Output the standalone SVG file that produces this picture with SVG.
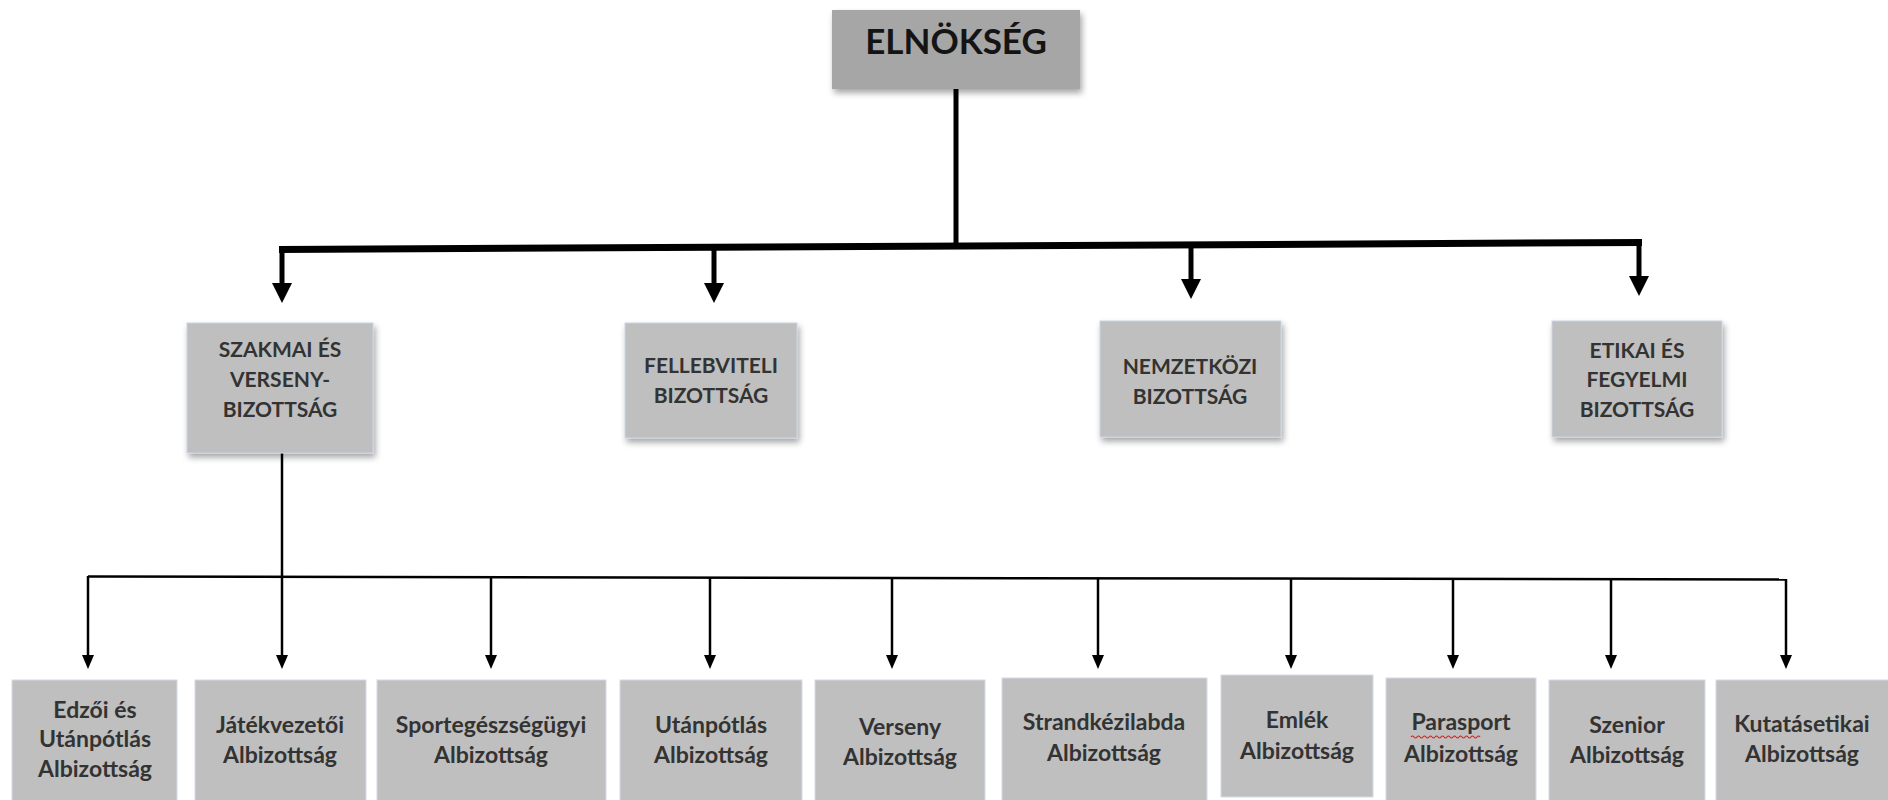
<svg xmlns="http://www.w3.org/2000/svg" width="1888" height="800" viewBox="0 0 1888 800">
<style>
  text { font-family: Lato, "Open Sans", "Liberation Sans", sans-serif; font-weight: bold; text-anchor: middle; }
  .top { fill: #a6a6a6; filter: url(#sh); }
  .mid { fill: #bfbfbf; stroke: #c9d4e6; stroke-width: 1; filter: url(#sh); }
  .low { fill: #bfbfbf; stroke: #d3dbe8; stroke-width: 1; }
  .tt { font-size: 35px; fill: #141414; }
  .mt { font-size: 21px; fill: #333333; }
  .lt { font-size: 23px; fill: #333333; }
  .thick { stroke: #000; stroke-width: 5; fill: none; }
  .bar { stroke: #000; stroke-width: 7; fill: none; }
  .thin { stroke: #000; stroke-width: 2.5; fill: none; }
</style>
<defs>
  <filter id="sh" x="-10%" y="-10%" width="125%" height="130%">
    <feDropShadow dx="2" dy="4" stdDeviation="3" flood-color="#000" flood-opacity="0.35"/>
  </filter>
  <marker id="big" markerUnits="userSpaceOnUse" viewBox="0 0 20 20" refX="2" refY="10" markerWidth="20" markerHeight="20" orient="auto">
    <path d="M0,0 L20,10 L0,20 z" fill="#000"/>
  </marker>
  <marker id="small" markerUnits="userSpaceOnUse" viewBox="0 0 14 12" refX="2" refY="6" markerWidth="14" markerHeight="12" orient="auto">
    <path d="M0,0 L14,6 L0,12 z" fill="#000"/>
  </marker>
</defs>

<g id="connectors">
  <line class="thick" x1="956" y1="89" x2="956" y2="246"/>
  <line class="bar" x1="279" y1="249.5" x2="1642" y2="242.5"/>
  <line class="thick" x1="282" y1="249" x2="282" y2="285" marker-end="url(#big)"/>
  <line class="thick" x1="714" y1="247" x2="714" y2="285" marker-end="url(#big)"/>
  <line class="thick" x1="1191" y1="245" x2="1191" y2="281" marker-end="url(#big)"/>
  <line class="thick" x1="1639" y1="243" x2="1639" y2="278" marker-end="url(#big)"/>

  <line class="thin" x1="282" y1="453" x2="282" y2="657" marker-end="url(#small)"/>
  <line class="thin" x1="88" y1="576.5" x2="1787" y2="579.5"/>
  <line class="thin" x1="88" y1="576" x2="88" y2="657" marker-end="url(#small)"/>
  <line class="thin" x1="491" y1="577" x2="491" y2="657" marker-end="url(#small)"/>
  <line class="thin" x1="710" y1="577" x2="710" y2="657" marker-end="url(#small)"/>
  <line class="thin" x1="892" y1="578" x2="892" y2="657" marker-end="url(#small)"/>
  <line class="thin" x1="1098" y1="578" x2="1098" y2="657" marker-end="url(#small)"/>
  <line class="thin" x1="1291" y1="578" x2="1291" y2="657" marker-end="url(#small)"/>
  <line class="thin" x1="1453" y1="579" x2="1453" y2="657" marker-end="url(#small)"/>
  <line class="thin" x1="1611" y1="579" x2="1611" y2="657" marker-end="url(#small)"/>
  <line class="thin" x1="1786" y1="579" x2="1786" y2="657" marker-end="url(#small)"/>
</g>

<g id="elnokseg">
  <rect class="top" x="832" y="10" width="248" height="79"/>
  <text class="tt" x="956" y="54">ELNÖKSÉG</text>
</g>

<g id="szakmai">
  <rect class="mid" x="187" y="323" width="186" height="130"/>
  <text class="mt" x="280" y="357">SZAKMAI ÉS</text>
  <text class="mt" x="280" y="387">VERSENY-</text>
  <text class="mt" x="280" y="417">BIZOTTSÁG</text>
</g>
<g id="fellebviteli">
  <rect class="mid" x="625" y="323" width="172" height="115"/>
  <text class="mt" x="711" y="373">FELLEBVITELI</text>
  <text class="mt" x="711" y="403">BIZOTTSÁG</text>
</g>
<g id="nemzetkozi">
  <rect class="mid" x="1100" y="321" width="181" height="116"/>
  <text class="mt" x="1190" y="374">NEMZETKÖZI</text>
  <text class="mt" x="1190" y="404">BIZOTTSÁG</text>
</g>
<g id="etikai">
  <rect class="mid" x="1552" y="321" width="170" height="116"/>
  <text class="mt" x="1637" y="358">ETIKAI ÉS</text>
  <text class="mt" x="1637" y="387">FEGYELMI</text>
  <text class="mt" x="1637" y="417">BIZOTTSÁG</text>
</g>

<g id="edzoi">
  <rect class="low" x="12" y="680" width="165" height="125"/>
  <text class="lt" x="95" y="718">Edzői és</text>
  <text class="lt" x="95" y="747">Utánpótlás</text>
  <text class="lt" x="95" y="777">Albizottság</text>
</g>
<g id="jatekvezetoi">
  <rect class="low" x="195" y="680" width="171" height="125"/>
  <text class="lt" x="280" y="733">Játékvezetői</text>
  <text class="lt" x="280" y="763">Albizottság</text>
</g>
<g id="sportegeszsegugyi">
  <rect class="low" x="377" y="680" width="229" height="125"/>
  <text class="lt" x="491" y="733">Sportegészségügyi</text>
  <text class="lt" x="491" y="763">Albizottság</text>
</g>
<g id="utanpotlas">
  <rect class="low" x="620" y="680" width="182" height="125"/>
  <text class="lt" x="711" y="733">Utánpótlás</text>
  <text class="lt" x="711" y="763">Albizottság</text>
</g>
<g id="verseny">
  <rect class="low" x="815" y="680" width="170" height="125"/>
  <text class="lt" x="900" y="735">Verseny</text>
  <text class="lt" x="900" y="765">Albizottság</text>
</g>
<g id="strandkezilabda">
  <rect class="low" x="1002" y="678" width="205" height="127"/>
  <text class="lt" x="1104" y="730">Strandkézilabda</text>
  <text class="lt" x="1104" y="761">Albizottság</text>
</g>
<g id="emlek">
  <rect class="low" x="1221" y="675" width="152" height="122"/>
  <text class="lt" x="1297" y="728">Emlék</text>
  <text class="lt" x="1297" y="759">Albizottság</text>
</g>
<g id="parasport">
  <rect class="low" x="1386" y="678" width="150" height="127"/>
  <text class="lt" x="1461" y="730">Parasport</text>
  <path d="M1411,737 q1.5,-2 3,0 t3,0 t3,0 t3,0 t3,0 t3,0 t3,0 t3,0 t3,0 t3,0 t3,0 t3,0 t3,0 t3,0 t3,0 t3,0 t3,0 t3,0 t3,0 t3,0 t3,0 t3,0 t3,0" fill="none" stroke="#e02020" stroke-width="1.2"/>
  <text class="lt" x="1461" y="762">Albizottság</text>
</g>
<g id="szenior">
  <rect class="low" x="1549" y="680" width="156" height="125"/>
  <text class="lt" x="1627" y="733">Szenior</text>
  <text class="lt" x="1627" y="763">Albizottság</text>
</g>
<g id="kutatasetikai">
  <rect class="low" x="1716" y="680" width="180" height="125"/>
  <text class="lt" x="1802" y="732">Kutatásetikai</text>
  <text class="lt" x="1802" y="762">Albizottság</text>
</g>
</svg>
